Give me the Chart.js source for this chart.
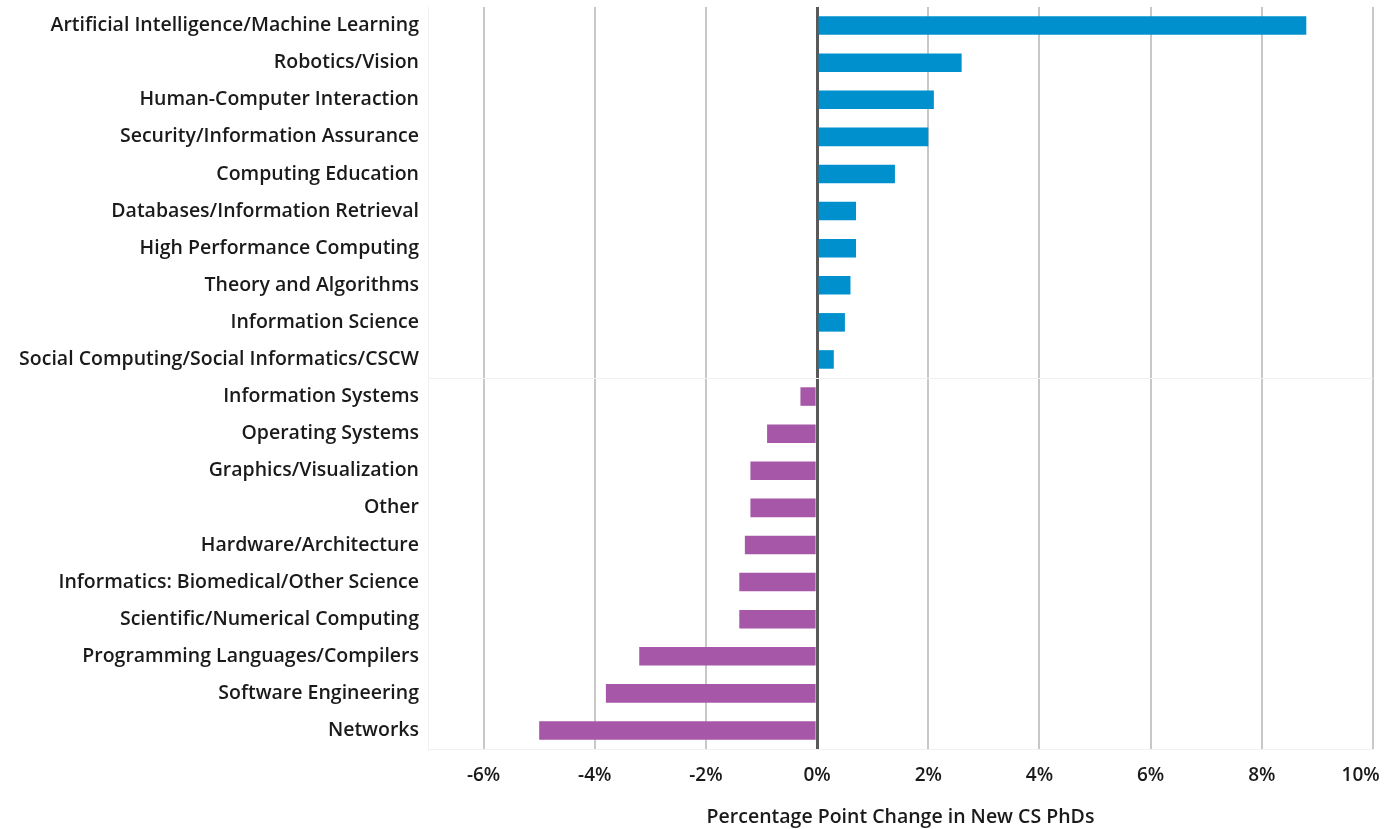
<!DOCTYPE html>
<html>
<head>
<meta charset="utf-8">
<script src="https://cdn.jsdelivr.net/npm/chart.js@4"></script>
<style>
html,body{margin:0;padding:0;background:#fff;}
#wrap{width:1385px;height:829px;}
</style>
</head>
<body>
<div id="wrap"><canvas id="c" width="1385" height="829"></canvas></div>
<script>
const categories = [
  "Artificial Intelligence/Machine Learning",
  "Robotics/Vision",
  "Human-Computer Interaction",
  "Security/Information Assurance",
  "Computing Education",
  "Databases/Information Retrieval",
  "High Performance Computing",
  "Theory and Algorithms",
  "Information Science",
  "Social Computing/Social Informatics/CSCW",
  "Information Systems",
  "Operating Systems",
  "Graphics/Visualization",
  "Other",
  "Hardware/Architecture",
  "Informatics: Biomedical/Other Science",
  "Scientific/Numerical Computing",
  "Programming Languages/Compilers",
  "Software Engineering",
  "Networks"
];
const changeValues = [8.8, 2.6, 2.1, 2.0, 1.4, 0.7, 0.7, 0.6, 0.5, 0.3,
  -0.3, -0.9, -1.2, -1.2, -1.3, -1.4, -1.4, -3.2, -3.8, -5.0];
const xTickValues = [-6, -4, -2, 0, 2, 4, 6, 8, 10];
const xTitle = "Percentage Point Change in New CS PhDs";

const POS = "#0090cd", NEG = "#a657a8";
const FONT = "'Open Sans'";

new Chart(document.getElementById("c"), {
  type: "bar",
  data: {
    labels: categories,
    datasets: [{
      data: changeValues,
      backgroundColor: changeValues.map(v => v >= 0 ? POS : NEG),
      categoryPercentage: 1,
      barPercentage: 0.5
    }]
  },
  options: {
    indexAxis: "y",
    responsive: false,
    animation: false,
    layout: { padding: { top: 7, right: 12, left: 0, bottom: 0 } },
    plugins: { legend: { display: false }, tooltip: { enabled: false } },
    scales: {
      x: {
        min: -7, max: 10,
        afterBuildTicks: s => { s.ticks = xTickValues.map(v => ({ value: v })); },
        afterFit: s => { s.height = 80; s.paddingRight = 0; s.paddingLeft = 0; },
        grid: {
          color: c => c.tick && c.tick.value === 0 ? "#595959" : "#c8c8c8",
          lineWidth: c => c.tick && c.tick.value === 0 ? 3 : 2,
          drawTicks: false
        },
        border: { display: true, color: "#f0f0f0", width: 1 },
        ticks: {
          padding: 15,
          color: "#1a1a1a",
          font: { family: FONT, size: 19, weight: "600" },
          callback: v => v === 10 ? v + "%\u00a0\u00a0\u00a0\u00a0\u00a0" : v + "%"
        },
        title: {
          display: true,
          text: xTitle,
          color: "#1a1a1a",
          font: { family: FONT, size: 19.5, weight: "600" },
          padding: { top: 12, bottom: 0 }
        }
      },
      y: {
        afterFit: s => { s.width = 428; s.paddingTop = 0; s.paddingBottom = 0; },
        grid: {
          offset: true,
          color: c => c.index === 10 ? "#f0f0f0" : "rgba(0,0,0,0)",
          lineWidth: 1,
          drawTicks: false
        },
        border: { display: true, color: "#f0f0f0", width: 1 },
        ticks: {
          padding: 9,
          color: "#1a1a1a",
          font: { family: FONT, size: 19.5, weight: "600" }
        }
      }
    }
  }
});
</script>
</body>
</html>
